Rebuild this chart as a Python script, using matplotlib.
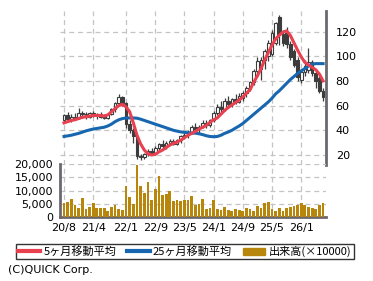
import matplotlib
matplotlib.use('Agg')
import matplotlib.pyplot as plt
from matplotlib.lines import Line2D
from matplotlib.patches import Patch
from matplotlib.ticker import FuncFormatter

# monthly candles, first bar = 2020/8
tick_labels = ['20/8', '21/4', '22/1', '22/9', '23/5', '24/1', '24/9', '25/5', '26/1']

opens = [48, 52, 49, 51, 50, 54, 53, 51, 54, 52, 53, 51, 50, 53, 57, 62, 67, 62, 45, 40,
         35, 19, 18, 21, 23, 22, 26, 29, 27, 30, 31, 29, 32, 35, 36, 39, 43, 41, 43, 46,
         44, 48, 54, 59, 57, 64, 61, 65, 63, 66, 70, 74, 79, 88, 90, 97, 100, 102, 111, 132,
         118, 119, 110, 104, 97, 81, 87, 89, 95, 86, 82, 72]
highs = [53, 55, 53, 54, 58, 56, 55, 55, 56, 54, 55, 53, 54, 58, 63, 69, 68, 63, 48, 42,
         36, 21, 22, 25, 26, 27, 30, 32, 31, 33, 33, 33, 36, 38, 40, 44, 46, 44, 48, 48,
         49, 56, 61, 64, 66, 68, 66, 69, 70, 72, 76, 80, 90, 99, 99, 106, 113, 121, 128, 133,
         121, 124, 112, 106, 99, 90, 97, 107, 97, 88, 84, 74]
lows = [46, 47, 47, 48, 49, 50, 49, 50, 51, 49, 50, 49, 49, 52, 55, 60, 60, 42, 38, 30,
        17, 16, 17, 19, 20, 21, 24, 26, 25, 28, 28, 28, 30, 33, 34, 37, 40, 38, 42, 42,
        43, 47, 52, 55, 56, 58, 59, 61, 62, 64, 67, 72, 77, 85, 81, 90, 96, 100, 109, 109,
        108, 107, 97, 91, 80, 78, 84, 86, 84, 74, 70, 64]
closes = [52, 49, 51, 50, 54, 53, 51, 54, 52, 53, 51, 50, 53, 57, 62, 67, 62, 45, 40, 35,
          19, 18, 21, 23, 22, 26, 29, 27, 30, 31, 29, 32, 35, 36, 39, 43, 41, 43, 46, 44,
          48, 54, 59, 57, 64, 61, 65, 63, 68, 70, 74, 79, 88, 96, 97, 104, 111, 119, 127, 118,
          111, 110, 99, 93, 83, 87, 92, 95, 86, 80, 72, 67]

ma5 = [46, 47, 48, 48.5, 49.5, 50.5, 51, 51.5, 52, 52, 52, 51.5, 52.5, 55, 57.5, 60, 61, 59,
       55, 46, 36, 29, 24, 21, 20, 20.5, 22.5, 24, 26, 28, 29.5, 30.5, 32, 34, 36, 37.5, 39,
       41, 42.5, 44, 46.5, 48.5, 50, 53, 56, 58.5, 60.5, 62.5, 64.5, 67, 70, 73, 79, 84, 90,
       97, 103, 109, 114, 117, 119.5, 120.5, 117, 111, 105, 99.5, 95, 93, 91, 89, 85.5, 80]
ma25 = [35, 35.5, 36, 36.8, 37.5, 38.5, 39.5, 40.3, 41, 41.5, 42, 42.5, 43.5, 45, 47, 48.5,
        49.5, 50, 50, 50, 49.8, 49, 48, 47, 46, 45, 44, 43, 42, 41, 40, 39.3, 38.7, 38.3, 38,
        37.8, 37.7, 37.2, 36.5, 35.6, 35, 34.8, 35, 36, 37.5, 38.6, 40, 41.8, 43.5, 45.5, 48,
        50.5, 53, 55.5, 58, 60.5, 63, 66, 69.5, 72, 75, 78, 81, 83.5, 86, 88, 90, 92, 93.5,
        94, 94, 94]

volume = [5300, 5700, 6800, 4700, 3500, 7200, 3000, 3800, 5400, 3500, 3500, 3500, 2300, 3800,
          4700, 3000, 2600, 11800, 7500, 5000, 19700, 11800, 9000, 13200, 6400, 10700, 15400,
          8400, 8800, 9900, 6200, 6500, 6200, 6300, 6400, 8100, 4500, 4800, 6900, 3100, 3500,
          6600, 3200, 2700, 3900, 2700, 2400, 3100, 2700, 2400, 3500, 3000, 2400, 4300, 3500,
          5100, 5500, 3000, 2300, 3500, 2300, 3400, 3800, 4200, 4700, 5100, 4500, 3800, 3500,
          3000, 4400, 5100]

idx = list(range(len(closes)))
tick_pos = [(int(t.split('/')[0]) - 20) * 12 + int(t.split('/')[1]) - 8 for t in tick_labels]

RED = '#e8404f'
BLUE = '#1767b0'
GOLD = '#b8860b'
DARK = '#3c3c3c'
SPINE = '#6c6870'
GRID = '#c4c4c4'

fig = plt.figure(figsize=(3.73, 2.81), dpi=100)

# price panel spans the whole chart height so the vertical grid runs through the volume area
ax = fig.add_axes([60 / 373, 64 / 281, 266 / 373, 206 / 281])
ax.set_xlim(-1.1, 71.8)
ax.set_ylim(-30.2, 136.6)
ax.set_xticks(tick_pos)
ax.set_yticks([20, 40, 60, 80, 100, 120])
ax.grid(True, color=GRID, linestyle=(0, (4, 3)), linewidth=0.9)
ax.tick_params(axis='x', labelbottom=False, length=0)
ax.tick_params(axis='y', left=False, labelleft=False, right=False, labelright=True,
               length=0, pad=7, labelsize=8)
ax.set_axisbelow(True)
for s in ['left', 'top', 'bottom']:
    ax.spines[s].set_visible(False)
ax.spines['right'].set_color(SPINE)
ax.spines['right'].set_linewidth(2)
ax.spines['right'].set_bounds(11.9, 136.6)

# candles
ax.vlines(idx, lows, highs, color=DARK, linewidth=0.9, zorder=2)
up = [c >= o for o, c in zip(opens, closes)]
bottoms = [min(o, c) for o, c in zip(opens, closes)]
heights = [max(abs(c - o), 0.6) for o, c in zip(opens, closes)]
ax.bar(idx, heights, bottom=bottoms, width=0.72,
       color=['white' if u else DARK for u in up], edgecolor=DARK, linewidth=0.8, zorder=3)

ax.plot(idx, ma25, color=BLUE, linewidth=2.2, zorder=4)
ax.plot(idx, ma5, color=RED, linewidth=2.2, zorder=5)

# volume panel
vax = fig.add_axes([60 / 373, 64 / 281, 266 / 373, 53 / 281])
vax.patch.set_alpha(0)
vax.set_xlim(-1.1, 71.8)
vax.set_ylim(0, 20000)
vax.bar(idx, volume, width=0.75, color=GOLD, zorder=3)
vax.set_yticks([0, 5000, 10000, 15000, 20000])
vax.yaxis.set_major_formatter(FuncFormatter(lambda v, p: f'{int(v):,}'))
vax.grid(True, axis='y', color=GRID, linestyle=(0, (4, 3)), linewidth=0.9)
vax.set_axisbelow(True)
vax.set_xticks(tick_pos)
vax.set_xticklabels(tick_labels)
vax.tick_params(axis='x', length=0, pad=4, labelsize=8)
vax.tick_params(axis='y', length=0, pad=5, labelsize=8)
for s in ['top', 'right']:
    vax.spines[s].set_visible(False)
for s in ['left', 'bottom']:
    vax.spines[s].set_color(SPINE)
    vax.spines[s].set_linewidth(2)

handles = [Line2D([], [], color=RED, linewidth=3),
           Line2D([], [], color=BLUE, linewidth=3),
           Patch(facecolor=GOLD, edgecolor=GOLD)]
labels = ['5ヶ月移動平均', '25ヶ月移動平均', '出来高(×10000)']
leg = fig.legend(handles, labels, loc='center', bbox_to_anchor=(0.495, 1 - 251.5 / 281), ncol=3,
                 frameon=True, fancybox=False, edgecolor='black', borderpad=0.2,
                 handlelength=2.0, handleheight=0.6, handletextpad=0.3, columnspacing=1.0,
                 prop={'family': ['Noto Sans CJK JP', 'DejaVu Sans'], 'size': 8})
leg.get_frame().set_linewidth(1.0)

fig.text(8 / 373, 1 - 270 / 281, '(C)QUICK Corp.', fontsize=8, va='center', ha='left')

fig.savefig('out.png', dpi=100)
